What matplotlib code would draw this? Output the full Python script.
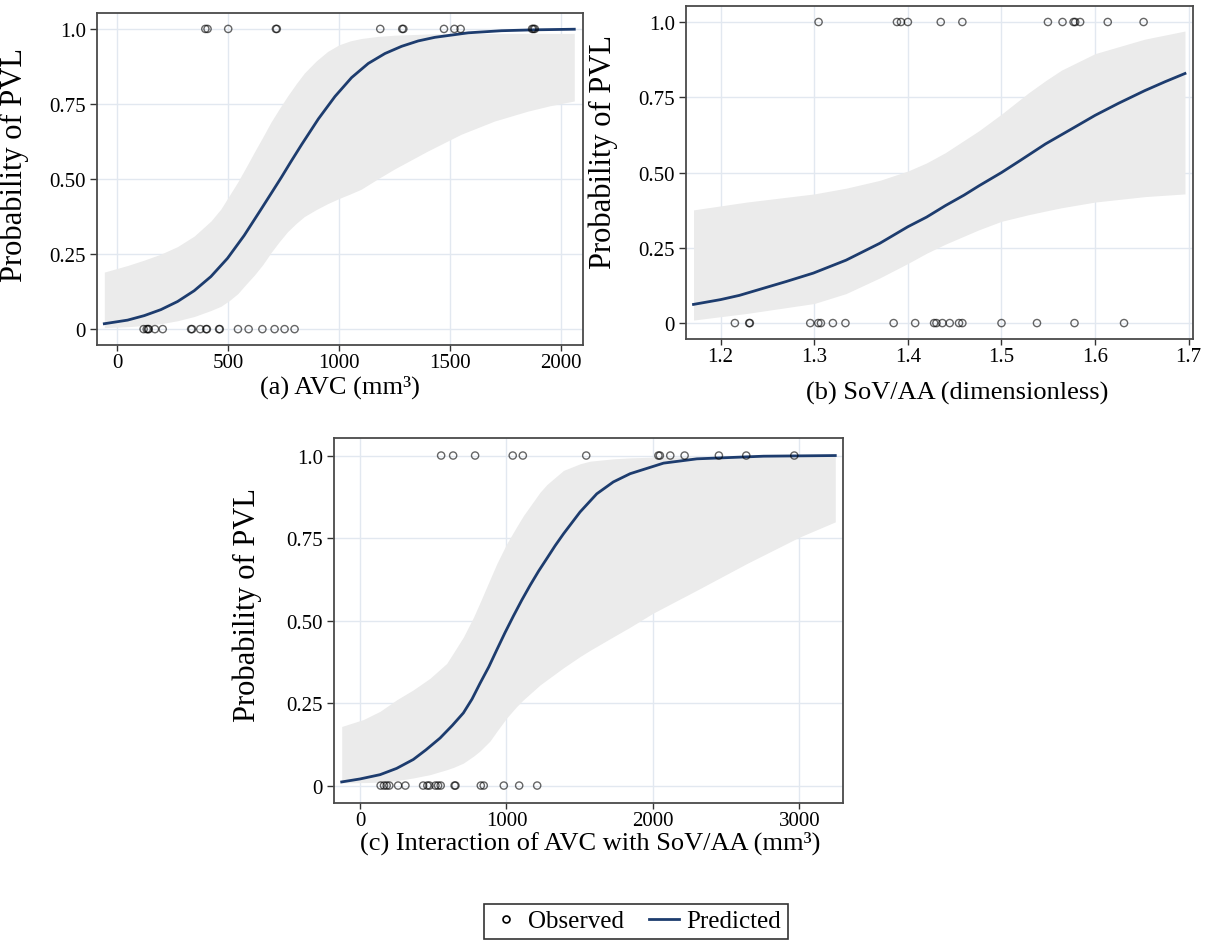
import matplotlib
matplotlib.use('Agg')
import matplotlib.pyplot as plt
from matplotlib.lines import Line2D

plt.rcParams['font.family'] = ['Liberation Serif', 'DejaVu Serif']

# ---------------- data ----------------
# (a) AVC
a_obs1 = [398, 408, 501, 716, 720, 1186, 1285, 1290, 1473, 1520, 1548, 1870, 1876, 1882]
a_obs0 = [120, 134, 140, 143, 171, 206, 334, 338, 375, 402, 405, 460, 463, 545, 593,
          655, 710, 755, 800]
a_curve_x = [-57, 48, 123, 198, 273, 348, 423, 498, 573, 648, 698, 740, 782, 832, 907,
             982, 1057, 1132, 1207, 1282, 1357, 1432, 1582, 1732, 1882, 2060]
a_curve_y = [0.018, 0.03, 0.045, 0.065, 0.092, 0.128, 0.175, 0.236, 0.312, 0.398, 0.456,
             0.505, 0.556, 0.615, 0.70, 0.775, 0.838, 0.885, 0.918, 0.942, 0.96, 0.972,
             0.987, 0.994, 0.997, 0.999]
a_band_x = [-57, 48, 123, 198, 273, 348, 423, 468, 506, 544, 582, 619, 657, 694, 732,
            769, 807, 844, 897, 949, 1000, 1050, 1100, 1174, 1249, 1399, 1550, 1700,
            1850, 1950, 2060]
a_band_hi = [0.19, 0.212, 0.23, 0.25, 0.275, 0.31, 0.36, 0.40, 0.445, 0.49, 0.54, 0.59,
             0.64, 0.69, 0.735, 0.777, 0.817, 0.853, 0.893, 0.925, 0.947, 0.96, 0.968,
             0.975, 0.979, 0.983, 0.985, 0.985, 0.985, 0.985, 0.985]
a_band_lo = [0.005, 0.008, 0.012, 0.018, 0.028, 0.042, 0.062, 0.076, 0.095, 0.118, 0.15,
             0.18, 0.215, 0.255, 0.292, 0.325, 0.352, 0.375, 0.398, 0.418, 0.435, 0.45,
             0.466, 0.5, 0.533, 0.593, 0.649, 0.693, 0.726, 0.744, 0.76]

# (b) SoV/AA
b_obs1 = [1.3046, 1.3883, 1.3926, 1.40, 1.4351, 1.4582, 1.5496, 1.5652, 1.5770, 1.5787,
          1.5840, 1.6135, 1.6518]
b_obs0 = [1.2152, 1.2305, 1.2312, 1.2957, 1.3043, 1.3071, 1.3199, 1.3333, 1.3848, 1.4078,
          1.4280, 1.4305, 1.4369, 1.4447, 1.4546, 1.4582, 1.50, 1.5379, 1.5780, 1.6309]
b_curve_x = [1.171, 1.2, 1.22, 1.245, 1.27, 1.299, 1.334, 1.37, 1.4, 1.42, 1.44, 1.46,
             1.476, 1.5, 1.52, 1.547, 1.575, 1.6, 1.625, 1.653, 1.675, 1.696]
b_curve_y = [0.062, 0.078, 0.092, 0.115, 0.138, 0.166, 0.209, 0.265, 0.32, 0.352, 0.39,
             0.425, 0.456, 0.5, 0.54, 0.595, 0.645, 0.69, 0.73, 0.772, 0.802, 0.829]
b_band_x = [1.171, 1.228, 1.3, 1.334, 1.37, 1.4, 1.42, 1.44, 1.476, 1.5, 1.529, 1.547,
            1.564, 1.6, 1.653, 1.696]
b_band_hi = [0.376, 0.402, 0.429, 0.448, 0.474, 0.505, 0.532, 0.566, 0.639, 0.694, 0.765,
             0.805, 0.84, 0.895, 0.943, 0.97]
b_band_lo = [0.01, 0.032, 0.065, 0.098, 0.15, 0.198, 0.232, 0.262, 0.31, 0.338, 0.36,
             0.372, 0.383, 0.402, 0.42, 0.429]

# (c) AVC x SoV/AA
c_obs1 = [554, 636, 786, 1043, 1112, 1545, 2038, 2048, 2119, 2217, 2451, 2638, 2966]
c_obs0 = [141, 164, 182, 200, 260, 310, 431, 460, 474, 515, 533, 551, 646, 652, 825,
          845, 982, 1087, 1210]
c_curve_x = [-125, 0, 137, 250, 364, 450, 547, 630, 706, 765, 820, 880, 934, 990, 1048,
             1105, 1162, 1220, 1276, 1333, 1390, 1503, 1617, 1730, 1845, 2073, 2301,
             2756, 3246]
c_curve_y = [0.011, 0.02, 0.033, 0.052, 0.079, 0.108, 0.144, 0.182, 0.22, 0.262, 0.31,
             0.36, 0.411, 0.463, 0.514, 0.562, 0.607, 0.65, 0.688, 0.727, 0.763, 0.829,
             0.884, 0.92, 0.945, 0.977, 0.99, 0.998, 1.0]
c_band_x = [-125, 23, 137, 251, 364, 478, 592, 638, 706, 775, 820, 888, 934, 1002, 1071,
            1116, 1230, 1276, 1390, 1503, 1572, 1731, 1845, 2000, 2301, 2643, 3002, 3246]
c_band_hi = [0.179, 0.2, 0.225, 0.26, 0.29, 0.325, 0.37, 0.402, 0.45, 0.51, 0.555,
             0.625, 0.672, 0.733, 0.785, 0.818, 0.889, 0.912, 0.955, 0.975, 0.983, 0.99,
             0.993, 0.995, 0.996, 0.997, 0.997, 0.997]
c_band_lo = [0.008, 0.009, 0.01, 0.015, 0.023, 0.033, 0.048, 0.055, 0.068, 0.089, 0.105,
             0.135, 0.164, 0.205, 0.24, 0.26, 0.305, 0.32, 0.357, 0.391, 0.41, 0.451,
             0.48, 0.522, 0.592, 0.673, 0.753, 0.799]

y_ticks = [0, 0.25, 0.5, 0.75, 1.0]
y_tick_labels = ['0', '0.25', '0.50', '0.75', '1.0']

LINE_COL = '#1d3c6e'
BAND_COL = '#ebebeb'
GRID_COL = '#e2e8f0'
FRAME_COL = '#4a4a4a'


def draw_panel(ax, obs0, obs1, cx, cy, bx, blo, bhi, xlim, xticks, xticklabels, xlabel,
               ylab_x, ylab_y, xlab_x, xlab_y):
    ax.fill_between(bx, blo, bhi, color=BAND_COL, linewidth=0, zorder=1)
    ax.plot(cx, cy, color=LINE_COL, linewidth=2.0, zorder=3)
    ax.scatter(obs0, [0] * len(obs0), s=27, facecolors='none',
               edgecolors=(0, 0, 0, 0.6), linewidths=1.0, zorder=4)
    ax.scatter(obs1, [1] * len(obs1), s=27, facecolors='none',
               edgecolors=(0, 0, 0, 0.6), linewidths=1.0, zorder=4)
    ax.set_xlim(*xlim)
    ax.set_ylim(-0.053, 1.053)
    ax.set_xticks(xticks)
    ax.set_xticklabels(xticklabels)
    ax.set_yticks(y_ticks)
    ax.set_yticklabels(y_tick_labels)
    ax.grid(True, color=GRID_COL, linewidth=1.0, zorder=0)
    ax.set_axisbelow(True)
    for sp in ax.spines.values():
        sp.set_color(FRAME_COL)
        sp.set_linewidth(1.3)
    ax.tick_params(axis='both', colors='#333333', labelsize=15, length=5, width=1.0,
                   labelcolor='black', pad=3)
    ax.tick_params(axis='x', length=4, pad=2)
    ax.set_ylabel('Probability of PVL', fontsize=22)
    ax.yaxis.set_label_coords(ylab_x, ylab_y)
    ax.set_xlabel(xlabel, fontsize=19)
    ax.xaxis.label.set_verticalalignment('center')
    ax.xaxis.set_label_coords(xlab_x, xlab_y)


fig = plt.figure(figsize=(12.17, 9.53), dpi=100)

ax_a = fig.add_axes([0.0797, 0.6369, 0.3993, 0.3484])
draw_panel(ax_a, a_obs0, a_obs1, a_curve_x, a_curve_y, a_band_x, a_band_lo, a_band_hi,
           (-90, 2099), [0, 500, 1000, 1500, 2000], ['0', '500', '1000', '1500', '2000'],
           '(a) AVC (mm³)', -0.14, 0.545, 0.5, -0.125)

ax_b = fig.add_axes([0.5637, 0.6432, 0.4166, 0.3494])
draw_panel(ax_b, b_obs0, b_obs1, b_curve_x, b_curve_y, b_band_x, b_band_lo, b_band_hi,
           (1.163, 1.7046), [1.2, 1.3, 1.4, 1.5, 1.6, 1.7],
           ['1.2', '1.3', '1.4', '1.5', '1.6', '1.7'],
           '(b) SoV/AA (dimensionless)', -0.135, 0.565, 0.534, -0.16)

ax_c = fig.add_axes([0.2744, 0.1563, 0.4182, 0.383])
draw_panel(ax_c, c_obs0, c_obs1, c_curve_x, c_curve_y, c_band_x, c_band_lo, c_band_hi,
           (-178, 3298), [0, 1000, 2000, 3000], ['0', '1000', '2000', '3000'],
           '(c) Interaction of AVC with SoV/AA (mm³)', -0.142, 0.545, 0.503, -0.108)

handles = [
    Line2D([], [], linestyle='none', marker='o', markersize=5, markerfacecolor='none',
           markeredgecolor='black', markeredgewidth=1.2, label='Observed'),
    Line2D([], [], color=LINE_COL, linewidth=2.0, label='Predicted'),
]
leg = fig.legend(handles=handles, loc='center', bbox_to_anchor=(0.5226, 0.0325), ncol=2,
                 fontsize=18, frameon=True, fancybox=False, edgecolor='black',
                 handlelength=1.2, handletextpad=0.3, columnspacing=1.0, borderpad=0.25)
leg.get_frame().set_linewidth(1.2)

fig.savefig('out.png', dpi=100)
